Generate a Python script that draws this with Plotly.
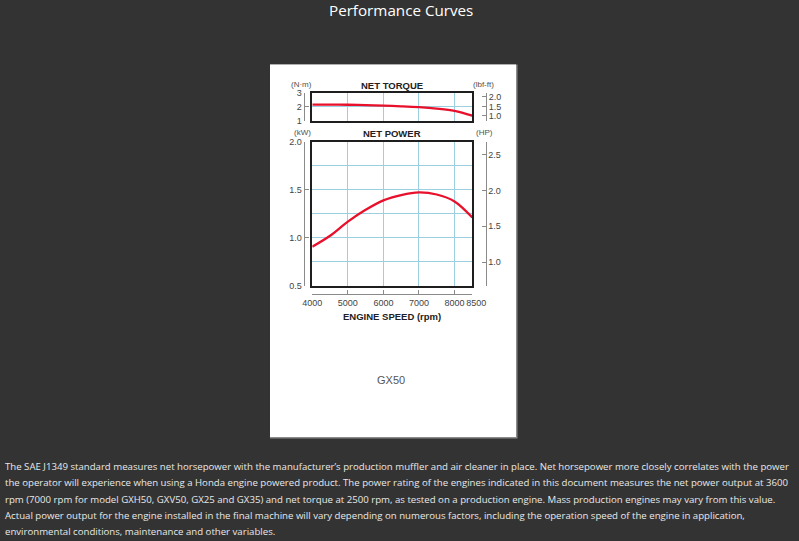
import plotly.graph_objects as go

# ---------------- data ----------------
rpm = [4000, 4500, 5000, 5500, 6000, 6500, 7000, 7500, 8000, 8500]
torque_nm = [2.16, 2.16, 2.15, 2.12, 2.08, 2.04, 1.98, 1.88, 1.72, 1.38]
power_kw = [0.906, 1.02, 1.167, 1.29, 1.389, 1.444, 1.472, 1.45, 1.378, 1.21]

x_ticks = [4000, 5000, 6000, 7000, 8000]
x_end_tick = [8500]
torque_ticks = [1, 2, 3]
lbfft_ticks = [1.0, 1.5, 2.0]
kw_ticks = [0.5, 1.0, 1.5, 2.0]
hp_ticks = [1.0, 1.5, 2.0, 2.5]

NM_TO_LBFFT = 0.7376
KW_TO_HP = 1.341

paragraph = [
    "The SAE J1349 standard measures net horsepower with the manufacturer\u2019s production muffler and air cleaner in place. Net horsepower more closely correlates with the power",
    "the operator will experience when using a Honda engine powered product. The power rating of the engines indicated in this document measures the net power output at 3600",
    "rpm (7000 rpm for model GXH50, GXV50, GX25 and GX35) and net torque at 2500 rpm, as tested on a production engine. Mass production engines may vary from this value.",
    "Actual power output for the engine installed in the final machine will vary depending on numerous factors, including the operation speed of the engine in application,",
    "environmental conditions, maintenance and other variables.",
]

# ---------------- layout helpers ----------------
W, H = 799, 541
def px(x):
    return x / W
def py(y):
    return 1 - y / H

BOX_X0, BOX_X1 = 312.3, 472.3
TQ_Y0, TQ_Y1 = 92.7, 121.0
PW_Y0, PW_Y1 = 141.7, 285.7

GRID = "#9ccfe0"
BOXLINE = "#1e1e1e"
AXLINE = "#8a8a8a"
LABEL = "#444444"
RED = "#e8102a"
FONT = "Liberation Sans, Arial, sans-serif"

fig = go.Figure()
fig.add_trace(go.Scatter(x=rpm, y=torque_nm, mode="lines", line=dict(color=RED, width=2.3, shape="spline"),
                         xaxis="x", yaxis="y", showlegend=False, hoverinfo="skip"))
fig.add_trace(go.Scatter(x=rpm, y=power_kw, mode="lines", line=dict(color=RED, width=2.3, shape="spline"),
                         xaxis="x2", yaxis="y2", showlegend=False, hoverinfo="skip"))
# empty traces so that the secondary (scale-only) axes are drawn
for xa, ya in [("x", "y3"), ("x", "y4"), ("x2", "y5"), ("x2", "y6"), ("x3", "y2"), ("x4", "y2")]:
    fig.add_trace(go.Scatter(x=[], y=[], mode="lines", xaxis=xa, yaxis=ya, showlegend=False, hoverinfo="skip"))

box_axis = dict(showline=True, mirror=True, linecolor=BOXLINE, linewidth=2, showgrid=True,
                gridcolor=GRID, gridwidth=1, showticklabels=False, ticks="", zeroline=False,
                fixedrange=True, automargin=False)

side_axis = dict(showline=True, linecolor=AXLINE, linewidth=1, ticks="inside", ticklen=4, tickcolor=AXLINE,
                 showgrid=False, zeroline=False, tickfont=dict(family=FONT, size=9, color=LABEL),
                 automargin=False, tickangle=0, fixedrange=True)

fig.update_layout(
    width=W, height=H, margin=dict(l=0, r=0, t=0, b=0, autoexpand=False),
    paper_bgcolor="#333333", plot_bgcolor="rgba(0,0,0,0)",
    xaxis=dict(domain=[px(BOX_X0), px(BOX_X1)], anchor="y", range=[4000, 8500],
               tickvals=[5000, 6000, 7000, 8000], **box_axis),
    yaxis=dict(domain=[py(TQ_Y1), py(TQ_Y0)], anchor="x", range=[1, 3], tickvals=[2], **box_axis),
    xaxis2=dict(domain=[px(BOX_X0), px(BOX_X1)], anchor="y2", range=[4000, 8500],
                tickvals=[5000, 6000, 7000, 8000], **box_axis),
    yaxis2=dict(domain=[py(PW_Y1), py(PW_Y0)], anchor="x2", range=[0.5, 2.0],
                tickvals=[0.75, 1.0, 1.25, 1.5, 1.75], **box_axis),
    yaxis3=dict(overlaying="y", anchor="free", position=px(303.5), side="left", range=[1, 3],
                tickvals=torque_ticks, **side_axis),
    yaxis4=dict(overlaying="y", anchor="free", position=px(486), side="right",
                range=[1 * NM_TO_LBFFT, 3 * NM_TO_LBFFT], tickvals=lbfft_ticks,
                ticktext=[f"{v:.1f}" for v in lbfft_ticks], **side_axis),
    yaxis5=dict(overlaying="y2", anchor="free", position=px(303.5), side="left", range=[0.5, 2.0],
                tickvals=kw_ticks, ticktext=[f"{v:.1f}" for v in kw_ticks], **side_axis),
    yaxis6=dict(overlaying="y2", anchor="free", position=px(485.5), side="right",
                range=[0.5 * KW_TO_HP, 2.0 * KW_TO_HP], tickvals=hp_ticks,
                ticktext=[f"{v:.1f}" for v in hp_ticks], **side_axis),
    xaxis3=dict(overlaying="x2", anchor="free", position=py(294.3), side="bottom", range=[4000, 8500],
                tickvals=x_ticks, **side_axis),
    xaxis4=dict(overlaying="x2", anchor="free", position=py(294.3), side="bottom", range=[4000, 8500],
                tickvals=x_end_tick, ticklabelshift=4, **side_axis),
)

# card
fig.add_shape(type="rect", xref="paper", yref="paper", x0=px(270), x1=px(517.5), y0=py(438.5), y1=py(64.5),
              fillcolor="#8c8c8c", line=dict(width=0), layer="below")
fig.add_shape(type="rect", xref="paper", yref="paper", x0=px(270), x1=px(516), y0=py(437), y1=py(64.5),
              fillcolor="#ffffff", line=dict(width=0), layer="below")

def ann(text, x, y, size, color, bold=False, xanchor="center", family=FONT):
    fig.add_annotation(text=f"<b>{text}</b>" if bold else text, x=px(x), y=py(y), xref="paper", yref="paper",
                       showarrow=False, xanchor=xanchor, yanchor="middle",
                       font=dict(family=family, size=size, color=color))

ann("NET TORQUE", 392.3, 85.5, 9.5, "#222222", bold=True)
ann("NET POWER", 392.3, 133.5, 9.5, "#222222", bold=True)
ann("(N\u00b7m)", 301, 84.5, 8, "#505050")
ann("(lbf-ft)", 483, 84.5, 8, "#505050")
ann("(kW)", 302, 132, 8, "#505050")
ann("(HP)", 484, 132, 8, "#505050")
ann("ENGINE SPEED (rpm)", 392.3, 316, 9.5, "#222222", bold=True)
ann("GX50", 391, 380, 11, "#555555")

ann("Performance Curves", 401, 10, 15.2, "#ffffff", family="Open Sans, sans-serif")

line_y = [466, 482.5, 499, 515.3, 531.5]
for t, y in zip(paragraph, line_y):
    ann(t, 2.5, y, 9.65, "#e8e8e8", xanchor="left", family="Open Sans, sans-serif")

fig.write_html("out.html")
